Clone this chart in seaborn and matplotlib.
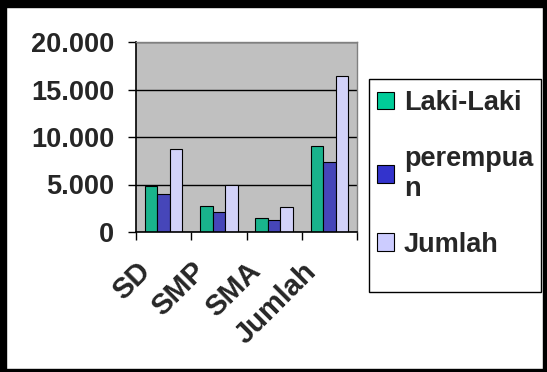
import numpy as np
import pandas as pd
import matplotlib
matplotlib.use("Agg")
import matplotlib.pyplot as plt
import matplotlib.transforms as mtransforms
from matplotlib.patches import Patch, Rectangle
from matplotlib.ticker import FuncFormatter, FixedLocator
import seaborn as sns

# data
categories = ["SD", "SMP", "SMA", "Jumlah"]
series = ["Laki-Laki", "perempuan", "Jumlah"]
legend_labels = ["Laki-Laki", "perempua\nn", "Jumlah"]
laki_laki = [4820, 2780, 1520, 9010]
perempuan = [4050, 2150, 1270, 7320]
jumlah = [8760, 4960, 2640, 16460]
colors = ["#00CC99", "#3333CC", "#CCCCFF"]

df = pd.DataFrame({
    "kategori": np.tile(categories, 3),
    "seri": np.repeat(series, len(categories)),
    "nilai": laki_laki + perempuan + jumlah,
})

sns.set_style("white")
plt.rcParams["font.family"] = ["Liberation Sans", "DejaVu Sans"]
plt.rcParams["font.weight"] = "bold"

W, H = 547, 372
fig = plt.figure(figsize=(W / 100, H / 100), dpi=100)
ax = fig.add_axes([136 / W, 1 - 232 / H, 221 / W, 190 / H])

sns.barplot(data=df, x="kategori", y="nilai", hue="seri", palette=colors,
            width=0.676, gap=0, edgecolor="black", linewidth=0.8,
            legend=False, ax=ax)

ax.set_facecolor("#C0C0C0")
ax.set_ylim(0, 20000)
ax.set_xlim(-0.5, 3.5)
ax.set_yticks([0, 5000, 10000, 15000, 20000])
ax.yaxis.set_major_formatter(FuncFormatter(lambda v, p: f"{v:,.0f}".replace(",", ".")))
ax.yaxis.grid(True, color="black", linewidth=1.0)
ax.set_axisbelow(True)
ax.set_xlabel("")
ax.set_ylabel("")

for side in ["top", "right"]:
    ax.spines[side].set_color("#808080")
    ax.spines[side].set_linewidth(1.0)
for side in ["left", "bottom"]:
    ax.spines[side].set_color("black")
    ax.spines[side].set_linewidth(1.2)

fs = 19.5
ax.tick_params(axis="y", direction="out", length=5.8, width=1, color="black",
               pad=10, labelsize=fs, left=True)
ax.tick_params(axis="x", which="major", length=0, pad=18, labelsize=21)
ax.xaxis.set_minor_locator(FixedLocator([-0.5, 0.5, 1.5, 2.5, 3.5]))
ax.tick_params(axis="x", which="minor", direction="out", length=5.8, width=1,
               color="black", bottom=True)

shift = mtransforms.ScaledTranslation(-8 / 100, 0, fig.dpi_scale_trans)
for lab in ax.get_xticklabels():
    lab.set_rotation(45)
    lab.set_ha("right")
    lab.set_va("top")
    lab.set_fontweight("bold")
    lab.set_transform(lab.get_transform() + shift)
for lab in ax.get_yticklabels():
    lab.set_fontweight("bold")

# legend box
fig.add_artist(Rectangle((369 / W, 1 - 292 / H), 172 / W, 213 / H,
                         transform=fig.transFigure, facecolor="white",
                         edgecolor="black", linewidth=1.0))
handles = [Patch(facecolor=c, edgecolor="black", linewidth=0.8) for c in colors]
fig.legend(handles, legend_labels, loc="upper left",
           bbox_to_anchor=(377 / W, 1 - 90 / H), frameon=False,
           prop={"weight": "bold", "size": fs},
           handlelength=0.62, handleheight=0.62, handletextpad=0.37,
           labelspacing=1.1, borderpad=0, borderaxespad=0)

# outer frame
fig.add_artist(Rectangle((0, 1 - 7 / H), 1, 7 / H, transform=fig.transFigure, color="black"))
fig.add_artist(Rectangle((0, 0), 6 / W, 1, transform=fig.transFigure, color="black"))
fig.add_artist(Rectangle((1 - 4 / W, 0), 4 / W, 1, transform=fig.transFigure, color="black"))
fig.add_artist(Rectangle((0, 0), 1, 3 / H, transform=fig.transFigure, color="black"))

fig.savefig("out.png", dpi=100)
